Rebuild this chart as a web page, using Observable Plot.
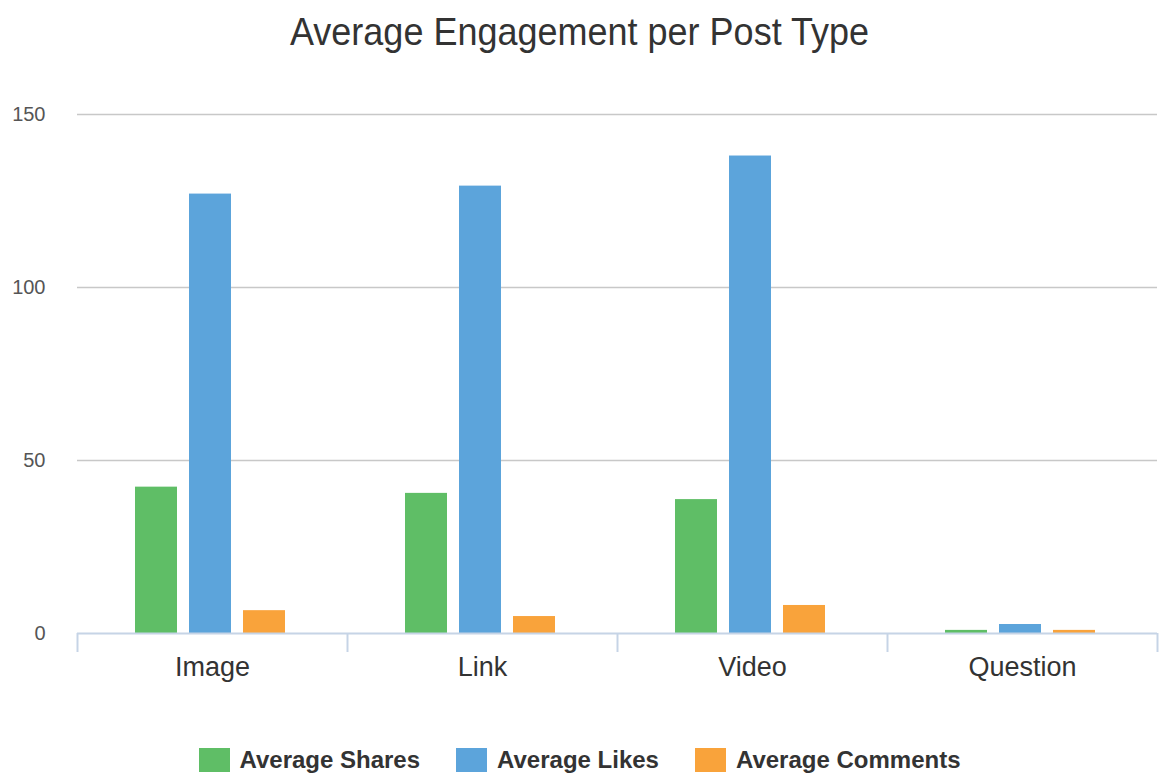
<!DOCTYPE html>
<html>
<head>
<meta charset="utf-8">
<script src="https://cdn.jsdelivr.net/npm/d3@7"></script>
<script src="https://cdn.jsdelivr.net/npm/@observablehq/plot@0.6"></script>
<style>
  html, body { margin: 0; padding: 0; background: #fff; }
  body { width: 1159px; height: 774px; overflow: hidden; font-family: "Liberation Sans", Arial, sans-serif; }
  #title { height: 82px; line-height: 64px; text-align: center; font-size: 36px; color: #333; }
  #title span { display: inline-block; transform: scaleY(1.1); }
  #legend { height: 28px; padding-top: 24px; display: flex; justify-content: center; align-items: center; font-weight: bold; font-size: 24px; color: #333; }
  .item { display: flex; align-items: center; margin: 0 18px; }
  .sw { width: 31px; height: 24px; margin-right: 10px; }
</style>
</head>
<body>
<div id="title"><span>Average Engagement per Post Type</span></div>
<div id="chart"></div>
<div id="legend"></div>
<script>
const categories = ["Image", "Link", "Video", "Question"];
const series = ["Average Shares", "Average Likes", "Average Comments"];
const shares = [42.3, 40.5, 38.7, 0.9];
const likes = [127.0, 129.3, 138.0, 2.6];
const comments = [6.6, 4.9, 8.1, 0.9];
const colors = ["#5fbe66", "#5ca4db", "#f9a33b"];
const yTicks = [0, 50, 100, 150];

const seriesValues = [shares, likes, comments];
const rows = categories.flatMap((c, i) =>
  series.map((s, j) => ({category: c, series: s, value: seriesValues[j][i]}))
);

const W = 1159, ML = 77, MR = 2;
const half = (W - ML - MR) / categories.length / 2;

const chart = Plot.plot({
  width: W,
  height: 640,
  marginLeft: ML,
  marginRight: MR,
  marginTop: 32,
  marginBottom: 89,
  style: {fontFamily: "'Liberation Sans', Arial, sans-serif", background: "white"},
  fx: {domain: categories, padding: 0, axis: null},
  x: {domain: series, axis: null, paddingInner: 0.22, paddingOuter: 1.11, align: 0.485},
  y: {domain: [0, 150], axis: null},
  color: {domain: series, range: colors},
  marks: [
    Plot.ruleY(yTicks.filter(d => d > 0), {stroke: "#c8c8c8", strokeWidth: 1.5}),
    Plot.barY(rows, {fx: "category", x: "series", y: "value", fill: "series"}),
    Plot.ruleY([0], {stroke: "#c6d4e6", strokeWidth: 2}),
    Plot.axisY({ticks: yTicks, tickSize: 0, tickPadding: 32, fontSize: 20, fill: "#555", label: null}),
    Plot.axisFx({anchor: "bottom", tickSize: 0, tickPadding: 23, fontSize: 27, fill: "#333", label: null}),
    Plot.axisFx({anchor: "bottom", tickSize: 19, tickFormat: () => "", stroke: "#c6d4e6", strokeWidth: 2, dx: -half, label: null}),
    Plot.axisFx({anchor: "bottom", ticks: [categories[categories.length - 1]], tickSize: 19, tickFormat: () => "", stroke: "#c6d4e6", strokeWidth: 2, dx: half, label: null})
  ]
});
document.getElementById("chart").appendChild(chart);

const legend = document.getElementById("legend");
series.forEach((s, i) => {
  const item = document.createElement("div");
  item.className = "item";
  const sw = document.createElement("div");
  sw.className = "sw";
  sw.style.background = colors[i];
  const t = document.createElement("span");
  t.textContent = s;
  item.appendChild(sw);
  item.appendChild(t);
  legend.appendChild(item);
});
</script>
</body>
</html>
